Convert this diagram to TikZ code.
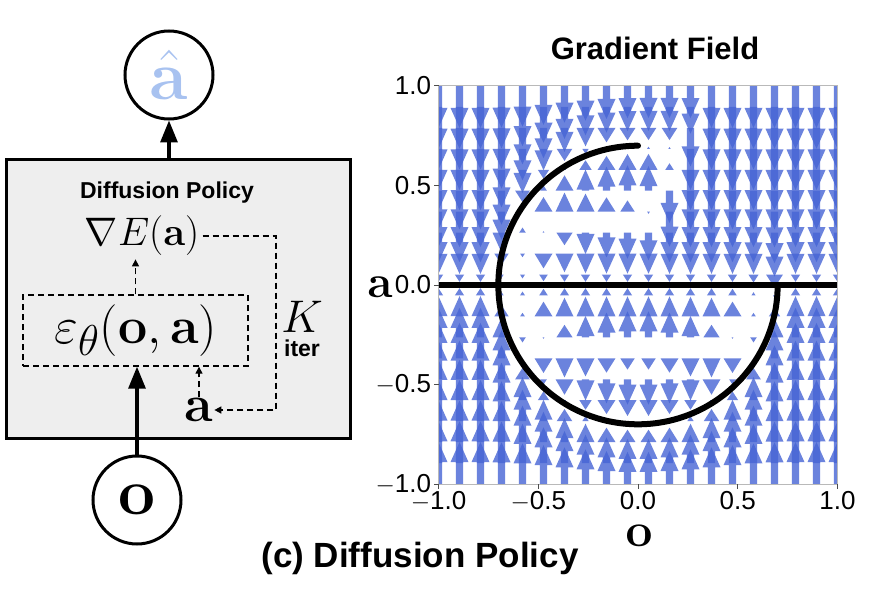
\documentclass[tikz,border=0pt]{standalone}
\usepackage[no-math]{fontspec}
\setsansfont{Liberation Sans}
\usepackage{amsmath}
\usepackage{graphicx}
\usetikzlibrary{arrows.meta,positioning}

\definecolor{fieldblue}{RGB}{70,100,212}
\definecolor{hatblue}{RGB}{168,194,240}
\definecolor{boxgray}{RGB}{238,238,238}
\definecolor{spinegray}{RGB}{185,185,185}
% math at a given size (in px), scaled up from \Huge
\newcommand{\mathat}[2]{\scalebox{\fpeval{#1/25}}{\Huge$#2$}}

\tikzset{
  varnode/.style={circle,draw,line width=3pt,minimum size=88pt,inner sep=0pt},
  polbox/.style={draw,line width=3.2pt,fill=boxgray,inner sep=0pt},
  mainarrow/.style={line width=3.2pt,-{Triangle[length=22pt,width=17pt]}},
  iterline/.style={line width=1.4pt,dash pattern=on 6pt off 4pt},
  iterend/.style={iterline,-{Triangle[length=7pt,width=7pt]}},
  boxhead/.style={font=\sffamily\bfseries\fontsize{23}{27}\selectfont},
  ticklab/.style={font=\sffamily\fontsize{26}{30}\selectfont,inner sep=2pt},
  fieldarrow/.style={fill=fieldblue,opacity=.8},
  policyline/.style={line width=6pt}
}

\begin{document}
\begin{tikzpicture}[x=1pt,y=-1pt]
\useasboundingbox (0,0) rectangle (878,596);

% left: policy block
\node[polbox,minimum width=344pt,minimum height=279pt,anchor=north west] (policy) at (5,158) {};
\node[varnode] (ahat) at (169,75) {\textcolor{hatblue}{\mathat{70}{\hat{\mathbf{a}}}}};
\node[varnode] (obs) at (137,500) {\mathat{66}{\mathbf{o}}};
\node[boxhead] (title) at (167,193) {Diffusion Policy};
\node (grad) at (142,236) {\mathat{40}{\nabla E(\mathbf{a})}};
\node[draw,iterline,minimum width=225pt,minimum height=71pt,inner sep=0pt] (eps) at (135.5,330.5) {\mathat{52}{\varepsilon_\theta(\mathbf{o},\mathbf{a})}};
\node[inner sep=1pt] (acur) at (199,410) {\mathat{52}{\mathbf{a}}};
\node[inner sep=0pt] (K) at (302,317) {\mathat{46}{K}};
\node[boxhead,inner sep=1pt,below=6pt of K] (iter) {iter};
\coordinate (loopturn) at (276,410);

\draw[mainarrow] (ahat.south |- policy.north) -- (ahat.south);
\draw[mainarrow] (obs.north) -- (obs.north |- eps.south);
\draw[iterend] (eps.north) -- (eps.north |- grad.south);
\draw[iterend] (acur.north) -- (acur.north |- eps.south);
\draw[iterend] (grad.east) -| (loopturn) -- (acur.east);

% right: gradient field
\node[font=\sffamily\bfseries\fontsize{31}{37}\selectfont] (fieldtitle) at (655,48) {Gradient Field};
\begin{scope}
\clip (438.5,86) rectangle (837.5,484);
\foreach \i in {0,...,19}{
  \foreach \j in {0,...,19}{
    \edef\fx{\fpeval{-1+\i*2/19}}
    \edef\fy{\fpeval{-1+\j*2/19}}
    \edef\fs{\fpeval{sqrt(max(0.49-(\fx)*(\fx),0))}}
    \edef\fmu{\fpeval{(\fx)<0 ? \fs : 0.7}}
    \edef\fwu{\fpeval{(\fx)<0 ? 1 : exp(0-(\fx)*(\fx)/0.005)}}
    \edef\ea{\fpeval{exp(0-(\fy)*(\fy)/0.045)}}
    \edef\eb{\fpeval{\fwu*exp(0-((\fy)-\fmu)*((\fy)-\fmu)/0.045)}}
    \edef\ec{\fpeval{exp(0-((\fy)+\fs)*((\fy)+\fs)/0.045)}}
    \edef\fd{\fpeval{(\ea*(0-(\fy))+\eb*(\fmu-(\fy))+\ec*(0-\fs-(\fy)))/(\ea+\eb+\ec)}}
    \edef\fL{\fpeval{42*(1-2/(exp(2*abs(\fd)/0.3)+1))}}
    \ifnum\fpeval{\fL>0.4}=1
      \edef\dir{\fpeval{sign(\fd)}}
      \edef\scl{\fpeval{min(\fL/14,1)}}
      \edef\px{\fpeval{round(638+199.5*(\fx),3)}}
      \edef\py{\fpeval{round(285-199*(\fy),3)}}
      \edef\yb{\fpeval{round(\py-\dir*max(\fL-20,0),3)}}
      \edef\yt{\fpeval{round(\py-\dir*\fL,3)}}
      \edef\xa{\fpeval{round(\px-3.6*\scl,3)}}
      \edef\xb{\fpeval{round(\px+3.6*\scl,3)}}
      \edef\xc{\fpeval{round(\px-9*\scl,3)}}
      \edef\xd{\fpeval{round(\px+9*\scl,3)}}
      \fill[fieldarrow] (\xa,\py) -- (\xa,\yb) -- (\xc,\yb) -- (\px,\yt) -- (\xd,\yb) -- (\xb,\yb) -- (\xb,\py) -- cycle;
    \fi
  }
}
\begin{scope}[shift={(638,285)},x=199.5pt,y=199pt]
  \draw[policyline] (-1,0) -- (1,0);
  \draw[policyline,line cap=round] (0,0.7) arc[start angle=90,end angle=360,radius=0.7];
\end{scope}
\end{scope}
\draw[spinegray,line width=1pt] (438.5,86) rectangle (837.5,484);
\foreach \t/\lab in {-1/{$-$1.0},-0.5/{$-$0.5},0/{0.0},0.5/{0.5},1/{1.0}}{
  \draw[line width=1pt,black!70] (438.5,285-199*\t) -- ++(-5,0) node[ticklab,anchor=east,text=black] {\lab};
  \draw[line width=1pt,black!70] (638+199.5*\t,484) -- ++(0,5) node[ticklab,anchor=north,text=black] {\lab};
}
\node[inner sep=0pt] (alab) at (380,287) {\mathat{46}{\mathbf{a}}};
\node[inner sep=0pt] (olab) at (639,536) {\mathat{48}{\mathbf{o}}};

\node[font=\sffamily\bfseries\fontsize{35}{42}\selectfont] (caption) at (420,558) {(c) Diffusion Policy};
\end{tikzpicture}
\end{document}
